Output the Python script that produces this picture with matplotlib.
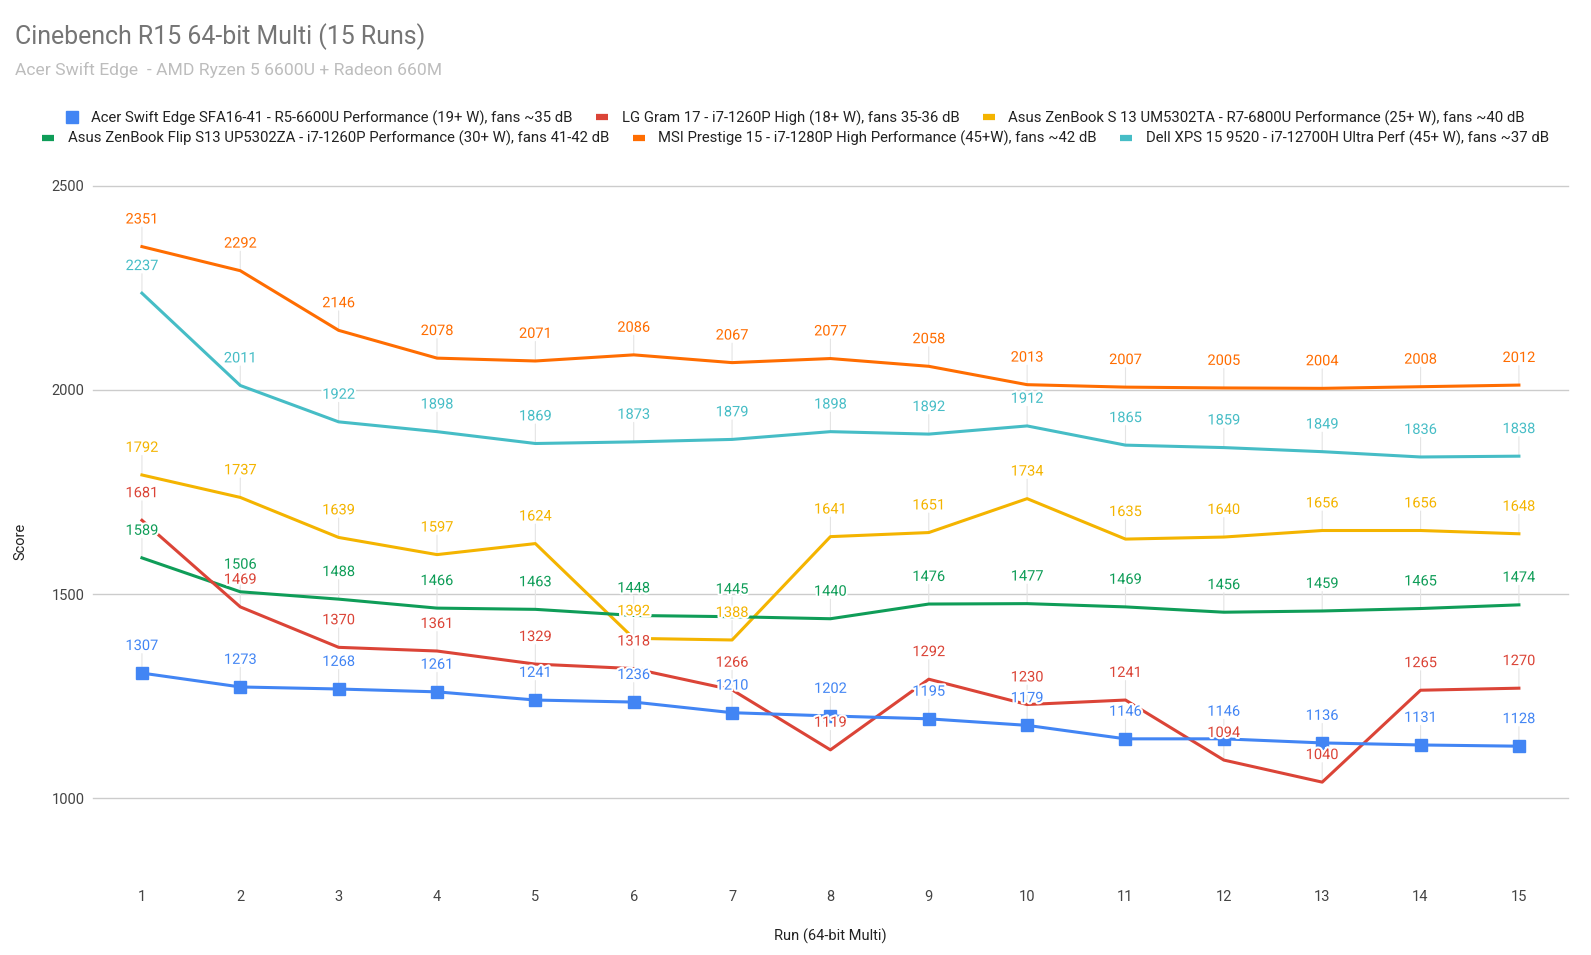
import matplotlib
matplotlib.use("Agg")
import matplotlib.pyplot as plt
import matplotlib.patheffects as pe
from matplotlib.lines import Line2D

plt.rcParams['font.family'] = ['Roboto', 'DejaVu Sans']

runs = list(range(1, 16))

acer = [1307, 1273, 1268, 1261, 1241, 1236, 1210, 1202, 1195, 1179, 1146, 1146, 1136, 1131, 1128]
lg = [1681, 1469, 1370, 1361, 1329, 1318, 1266, 1119, 1292, 1230, 1241, 1094, 1040, 1265, 1270]
zen_s13 = [1792, 1737, 1639, 1597, 1624, 1392, 1388, 1641, 1651, 1734, 1635, 1640, 1656, 1656, 1648]
zen_flip = [1589, 1506, 1488, 1466, 1463, 1448, 1445, 1440, 1476, 1477, 1469, 1456, 1459, 1465, 1474]
msi = [2351, 2292, 2146, 2078, 2071, 2086, 2067, 2077, 2058, 2013, 2007, 2005, 2004, 2008, 2012]
dell = [2237, 2011, 1922, 1898, 1869, 1873, 1879, 1898, 1892, 1912, 1865, 1859, 1849, 1836, 1838]

names = [
    "Acer Swift Edge SFA16-41 - R5-6600U Performance (19+ W), fans ~35 dB",
    "LG Gram 17 - i7-1260P High (18+ W), fans 35-36 dB",
    "Asus ZenBook S 13 UM5302TA - R7-6800U Performance (25+ W), fans ~40 dB",
    "Asus ZenBook Flip S13 UP5302ZA - i7-1260P Performance (30+ W), fans 41-42 dB",
    "MSI Prestige 15 - i7-1280P High Performance (45+W), fans ~42 dB",
    "Dell XPS 15 9520 - i7-12700H Ultra Perf (45+ W), fans ~37 dB",
]
colors = ["#4285F4", "#DB4437", "#F4B400", "#0F9D58", "#FF6D01", "#46BDC6"]
series = [acer, lg, zen_s13, zen_flip, msi, dell]

fig = plt.figure(figsize=(15.91, 9.55), dpi=100)
ax = fig.add_axes([0.0583, 0.1639, 0.9273, 0.6416])

# draw order: back to front roughly like the original
order = [4, 5, 2, 3, 1, 0]
for i in order:
    ax.plot(runs, series[i], color=colors[i], lw=2.2, zorder=3,
            marker='s' if i == 0 else None, ms=8, solid_joinstyle='round')

# leader lines + value labels
for i in order:
    for x, v in zip(runs, series[i]):
        ax.annotate('', xy=(x, v), xytext=(0, 14), textcoords='offset points',
                    arrowprops=dict(arrowstyle='-', color='#e4e4e4', lw=0.8,
                                    shrinkA=0, shrinkB=0), zorder=1)
        ax.annotate(str(v), xy=(x, v), xytext=(0, 19.5), textcoords='offset points',
                    ha='center', va='center', fontsize=10.5, color=colors[i], zorder=5,
                    path_effects=[pe.withStroke(linewidth=3, foreground='white')])

ax.set_xlim(0.5, 15.5)
ax.set_ylim(1000, 2500)
ax.set_yticks([1000, 1500, 2000, 2500])
ax.set_xticks(runs)
ax.grid(axis='y', color='#cccccc', lw=1)
for gl in ax.get_ygridlines():
    gl.set_clip_on(False)
ax.set_axisbelow(True)
for s in ax.spines.values():
    s.set_visible(False)
ax.tick_params(axis='both', length=0, labelsize=10.5, labelcolor='#444444')
ax.tick_params(axis='x', pad=66)
ax.tick_params(axis='y', pad=6)
ax.set_xlabel("Run (64-bit Multi)", fontsize=10.5, color='#222222', labelpad=18)
ax.set_ylabel("Score", fontsize=10.5, color='#222222')
ax.yaxis.set_label_coords(-0.044, 0.42)

fig.text(0.0094, 0.962, "Cinebench R15 64-bit Multi (15 Runs)", fontsize=17.9,
         color='#757575', va='center')
fig.text(0.0094, 0.927, "Acer Swift Edge  - AMD Ryzen 5 6600U + Radeon 660M", fontsize=12.6,
         color='#bdbdbd', va='center')

def handle(i):
    if i == 0:
        return Line2D([], [], color=colors[i], marker='s', ms=8, lw=0)
    return Line2D([], [], color=colors[i], lw=4.5, solid_capstyle='butt')

for row, (idx, y) in enumerate([([0, 1, 2], 0.876), ([3, 4, 5], 0.855)]):
    fig.legend([handle(i) for i in idx], [names[i] for i in idx], ncol=3,
               loc='center', bbox_to_anchor=(0.5, y), frameon=False,
               fontsize=10.7, labelcolor='#222222', handlelength=0.8,
               handletextpad=0.9, columnspacing=1.6, borderpad=0)

fig.savefig("out.png", dpi=100, facecolor='white')
